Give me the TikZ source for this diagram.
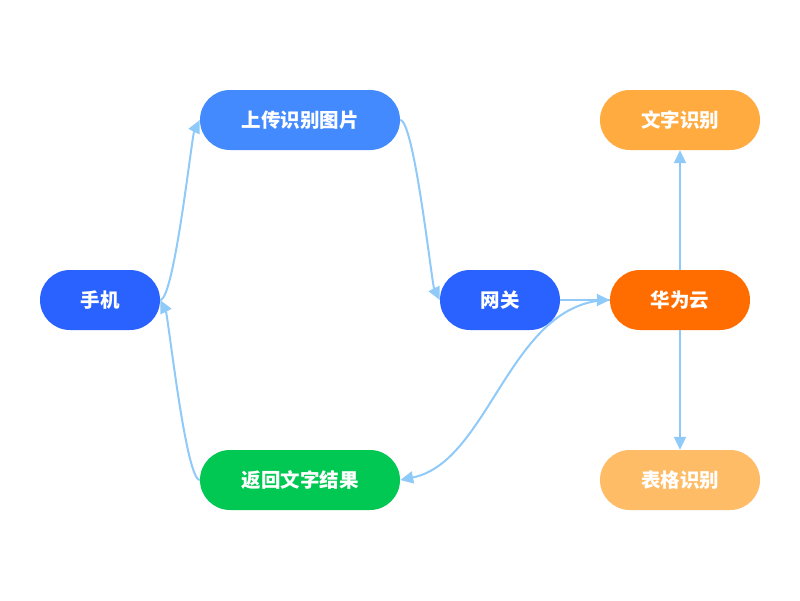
\documentclass[tikz,border=0pt]{standalone}
\usepackage{fontspec}
\newfontfamily\cjk{Noto Sans CJK SC}
\usetikzlibrary{arrows.meta}
\definecolor{cA}{HTML}{2962FF}
\definecolor{cB}{HTML}{448AFF}
\definecolor{cG}{HTML}{00C853}
\definecolor{cO}{HTML}{FF6D00}
\definecolor{cO1}{HTML}{FFAB40}
\definecolor{cO2}{HTML}{FFBC66}
\definecolor{cE}{HTML}{90CAF9}
\tikzset{
  pill/.style={rectangle, rounded corners=30pt, minimum height=60pt, inner sep=0pt, text=white, font=\cjk\bfseries\fontsize{19.5}{22}\selectfont},
  link/.style={draw=cE, line width=2pt, -{Triangle[length=13pt,width=12pt]}}
}
\begin{document}
\begin{tikzpicture}[x=1pt,y=-1pt]
\useasboundingbox[fill=white] (0,0) rectangle (800,600);
\node[pill, fill=cA, minimum width=120pt] (phone) at (100,300) {手机};
\node[pill, fill=cB, minimum width=200pt] (upload) at (300,120) {上传识别图片};
\node[pill, fill=cG, minimum width=200pt] (ret) at (300,480) {返回文字结果};
\node[pill, fill=cA, minimum width=120pt] (gw) at (500,300) {网关};
\node[pill, fill=cO, minimum width=140pt] (hw) at (680,300) {华为云};
\node[pill, fill=cO1, minimum width=160pt] (txt) at (680,120) {文字识别};
\node[pill, fill=cO2, minimum width=160pt] (tab) at (680,480) {表格识别};
\draw[link] (phone.east) .. controls +(14,0) and +(-8,16) .. (upload.west);
\draw[link] (ret.west) .. controls +(-14,0) and +(8,16) .. (phone.east);
\draw[link] (upload.east) .. controls +(14,0) and +(-8,-16) .. (gw.west);
\draw[link] (gw.east) -- (hw.west);
\draw[link] (hw.west) .. controls +(-100,0) and +(90,-18) .. (ret.east);
\draw[link] (hw.north) -- (txt.south);
\draw[link] (hw.south) -- (tab.north);
\end{tikzpicture}
\end{document}
